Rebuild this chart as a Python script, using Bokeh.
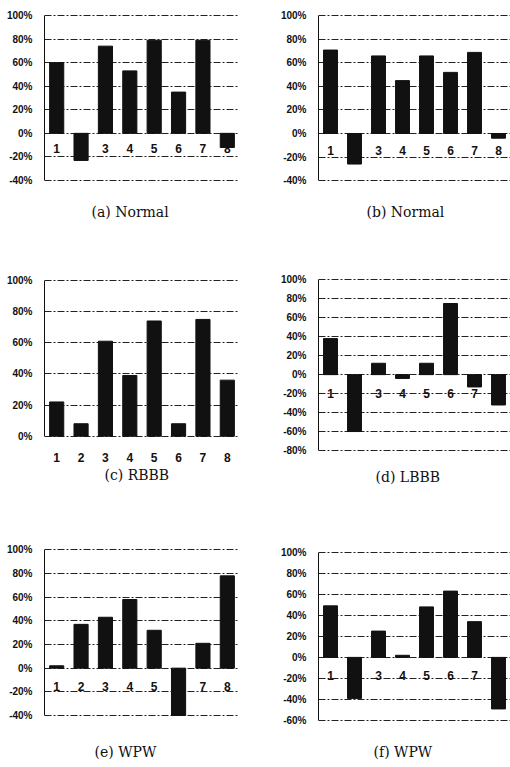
from bokeh.plotting import figure
from bokeh.layouts import column, row
from bokeh.models import Range1d, FixedTicker, PrintfTickFormatter, Title
from bokeh.core.properties import value
from bokeh.embed import file_html
from bokeh.resources import INLINE

# ---------------- data ----------------
categories = ["1", "2", "3", "4", "5", "6", "7", "8"]

normal_a = [60, -23, 74, 53, 79, 35, 79, -12]
normal_b = [71, -26, 66, 45, 66, 52, 69, -4]
rbbb_c = [22, 8, 61, 39, 74, 8, 75, 36]
lbbb_d = [38, -60, 12, -4, 12, 75, -13, -32]
wpw_e = [2, 37, 43, 58, 32, -40, 21, 78]
wpw_f = [49, -39, 25, 2, 48, 63, 34, -49]

ticks_a = [-40, -20, 0, 20, 40, 60, 80, 100]
ticks_b = [-40, -20, 0, 20, 40, 60, 80, 100]
ticks_c = [0, 20, 40, 60, 80, 100]
ticks_d = [-80, -60, -40, -20, 0, 20, 40, 60, 80, 100]
ticks_e = [-40, -20, 0, 20, 40, 60, 80, 100]
ticks_f = [-60, -40, -20, 0, 20, 40, 60, 80, 100]

captions = ["(a) Normal", "(b) Normal", "(c) RBBB", "(d) LBBB", "(e) WPW", "(f) WPW"]

TICK_FONT = "Liberation Sans"
CAP_FONT = "DejaVu Serif"


def panel(vals, ticks, caption, yr, width, height, bl, br, bt, bb,
          cap_offset, cap_standoff, label_offset=17, inner_labels=True):
    p = figure(
        x_range=categories,
        y_range=Range1d(yr[0], yr[1]),
        width=width, height=height,
        output_backend="svg", toolbar_location=None,
        x_axis_type=None if inner_labels else "auto",
        min_border_left=bl, min_border_right=br,
        min_border_top=bt, min_border_bottom=bb,
    )
    p.outline_line_color = None
    p.background_fill_color = "white"
    p.border_fill_color = "white"

    # y axis
    p.yaxis.ticker = FixedTicker(ticks=ticks)
    p.yaxis.bounds = (min(ticks), max(ticks))
    p.yaxis.formatter = PrintfTickFormatter(format="%d%%")
    p.yaxis.major_tick_line_color = None
    p.yaxis.minor_tick_line_color = None
    p.yaxis.axis_line_color = "#111111"
    p.yaxis.axis_line_width = 1
    p.yaxis.major_label_standoff = 6
    p.yaxis.major_label_text_font = TICK_FONT
    p.yaxis.major_label_text_font_style = "bold"
    p.yaxis.major_label_text_font_size = "10px"
    p.yaxis.major_label_text_color = "#111111"

    # grid
    p.ygrid.ticker = FixedTicker(ticks=ticks)
    p.ygrid.grid_line_color = "#222222"
    p.ygrid.grid_line_dash = "7 2 2 2"
    p.ygrid.grid_line_width = 1
    p.xgrid.visible = False

    if inner_labels:
        p.text(x=categories, y=[0] * len(categories), text=categories,
               y_offset=label_offset, text_align="center", text_baseline="middle",
               text_font=value(TICK_FONT), text_font_style="bold",
               text_font_size="12px", text_color="#111111")
    else:
        p.xaxis.axis_line_color = None
        p.xaxis.major_tick_line_color = None
        p.xaxis.minor_tick_line_color = None
        p.xaxis.major_tick_out = 0
        p.xaxis.major_tick_in = 0
        p.xaxis.major_label_standoff = 0
        p.xaxis.major_label_text_font = TICK_FONT
        p.xaxis.major_label_text_font_style = "bold"
        p.xaxis.major_label_text_font_size = "12px"
        p.xaxis.major_label_text_color = "#111111"

    p.vbar(x=categories, top=vals, bottom=0, width=0.58,
           fill_color="#111111", line_color="#111111")

    p.add_layout(Title(text=caption, align="left", offset=cap_offset,
                       standoff=cap_standoff, text_font=CAP_FONT,
                       text_font_size="14px", text_font_style="normal",
                       text_color="#111111"), "below")
    return p


pa = panel(normal_a, ticks_a, captions[0], (-48.5, 101.7), 255, 240, 44, 16, 13, 50, 47, 23, 15)
pb = panel(normal_b, ticks_b, captions[1], (-48.5, 102.1), 255, 240, 63, 0, 13, 50, 48, 23, 17)
pc = panel(rbbb_c, ticks_c, captions[2], (-10.47, 101.93), 255, 260, 44, 16, 37, 48, 60, 0,
           inner_labels=False)
pd = panel(lbbb_d, ticks_d, captions[3], (-82.1, 102.43), 255, 260, 63, 0, 37, 48, 57, 29, 19)
pe = panel(wpw_e, ticks_e, captions[4], (-59.43, 101.94), 255, 265, 44, 16, 47, 27, 50, 7, 18)
pf = panel(wpw_f, ticks_f, captions[5], (-77.1, 104.47), 255, 265, 63, 0, 47, 27, 55, 7, 18)

layout = column(row(pa, pb), row(pc, pd), row(pe, pf))

open("out.html", "w").write(file_html(layout, INLINE))
